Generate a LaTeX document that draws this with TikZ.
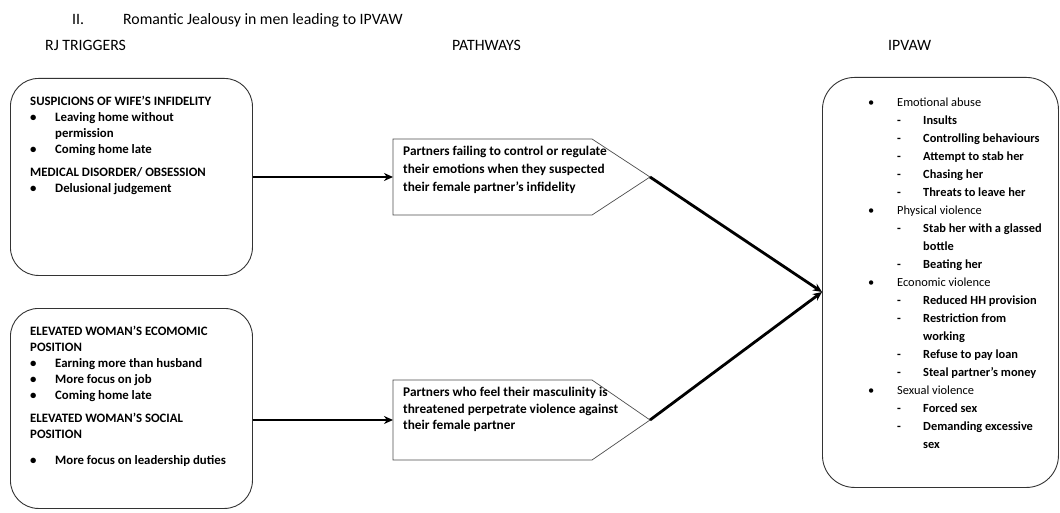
\documentclass[tikz,border=0pt]{standalone}
\usepackage{fontspec}
\setmainfont{Carlito}
\usetikzlibrary{arrows.meta,calc}
\newcommand{\bul}{\makebox[25pt][l]{\textbullet}}
\newcommand{\ind}{\hspace*{25pt}}
\newcommand{\rbul}{\makebox[29pt][l]{\textbullet}}
\newcommand{\rdsh}{\hspace*{29pt}\makebox[26pt][l]{\textbf{-}}}
\newcommand{\rind}{\hspace*{55pt}}

\begin{document}
\begin{tikzpicture}[x=1pt,y=-1pt,
  rbox/.style={draw=black!80,line width=0.9pt,rounded corners=28pt,anchor=north west,inner sep=0pt},
  txt/.style={anchor=north west,align=left,inner sep=0pt,font=\fontsize{12.8}{16}\selectfont\bfseries},
  head/.style={anchor=base west,inner sep=0pt,font=\fontsize{15.8}{17}\selectfont},
  flow/.style={-{Stealth[length=9pt,width=8pt]},line width=2.8pt},
  pent/.style={draw=black!70,line width=0.7pt}]
\useasboundingbox (0,0) rectangle (1060,513);

% headings
\node[head] (num) at (72,25) {II.};
\node[head] (title) at (123,25) {Romantic Jealousy in men leading to IPVAW};
\node[head] (h1) at (45,51) {RJ TRIGGERS};
\node[head] (h2) at (452,51) {PATHWAYS};
\node[head] (h3) at (888,51) {IPVAW};

% triggers
\node[rbox,minimum width=242pt,minimum height=197pt] (trig1) at (10,78) {};
\node[rbox,minimum width=242pt,minimum height=200pt] (trig2) at (10,308) {};
\node[txt] (t1) at (30,96) {SUSPICIONS OF WIFE'S INFIDELITY\\
  \bul Leaving home without\\
  \ind permission\\
  \bul Coming home late\\[7pt]
  MEDICAL DISORDER/ OBSESSION\\
  \bul Delusional judgement};
\node[txt] (t2) at (30,326) {ELEVATED WOMAN'S ECOMOMIC\\
  POSITION\\
  \bul Earning more than husband\\
  \bul More focus on job\\
  \bul Coming home late\\[7pt]
  ELEVATED WOMAN'S SOCIAL\\
  POSITION\\[10pt]
  \bul More focus on leadership duties};

% pathways
\draw[pent] (393,139) -- (592,139) -- (650,177) coordinate (p1e) -- (592,215) -- (393,215) -- cycle;
\coordinate (p1w) at (393,177);
\draw[pent] (393,380) -- (592,380) -- (650,420) coordinate (p2e) -- (592,460) -- (393,460) -- cycle;
\coordinate (p2w) at (393,420);
\node[txt,font=\fontsize{13.3}{18}\selectfont\bfseries] (path1) at (403,146) {Partners failing to control or regulate\\
  their emotions when they suspected\\
  their female partner's infidelity};
\node[txt,font=\fontsize{13.3}{16.5}\selectfont\bfseries] (path2) at (403,387) {Partners who feel their masculinity is\\
  threatened perpetrate violence against\\
  their female partner};

% outcomes
\node[rbox,minimum width=236pt,minimum height=410pt,rounded corners=32pt] (ipvaw) at (822,77) {};
\coordinate (hit) at (822,292);
\node[txt,font=\fontsize{12.4}{18}\selectfont] (t3) at (868,98) {\rbul Emotional abuse\\
  \rdsh\textbf{Insults}\\
  \rdsh\textbf{Controlling behaviours}\\
  \rdsh\textbf{Attempt to stab her}\\
  \rdsh\textbf{Chasing her}\\
  \rdsh\textbf{Threats to leave her}\\
  \rbul Physical violence\\
  \rdsh\textbf{Stab her with a glassed}\\
  \rind\textbf{bottle}\\
  \rdsh\textbf{Beating her}\\
  \rbul Economic violence\\
  \rdsh\textbf{Reduced HH provision}\\
  \rdsh\textbf{Restriction from}\\
  \rind\textbf{working}\\
  \rdsh\textbf{Refuse to pay loan}\\
  \rdsh\textbf{Steal partner's money}\\
  \rbul Sexual violence\\
  \rdsh\textbf{Forced sex}\\
  \rdsh\textbf{Demanding excessive}\\
  \rind\textbf{sex}};

% connectors
\draw[flow] (trig1.east |- p1w) -- (p1w);
\draw[flow] (trig2.east |- p2w) -- (p2w);
\draw[flow] (p1e) -- (hit);
\draw[flow] (p2e) -- (hit);
\end{tikzpicture}
\end{document}
